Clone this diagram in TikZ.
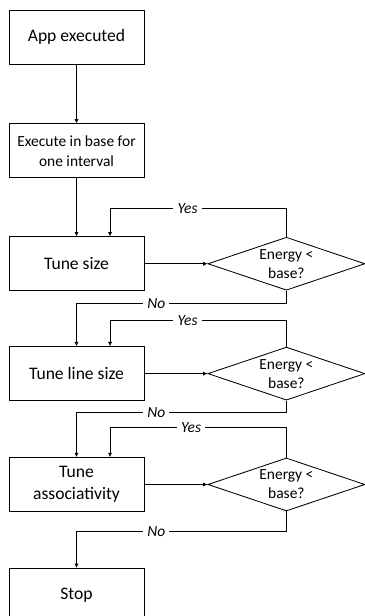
\documentclass[tikz,border=0pt]{standalone}
\usepackage{fontspec}
\setmainfont{Carlito}
\usetikzlibrary{positioning, arrows.meta, shapes.geometric}

\begin{document}
\begin{tikzpicture}[x=0.025cm, y=-0.025cm, node distance=1.4cm and 1.575cm,
    line width=0.6pt,
    every node/.style={font=\fontsize{12.5}{16}\selectfont},
    stepbox/.style={rectangle, draw, minimum width=3.375cm, minimum height=1.35cm, align=center, inner sep=2pt},
    smallbox/.style={stepbox, font=\fontsize{11}{14}\selectfont},
    check/.style={diamond, draw, aspect=2.96, inner sep=0pt, minimum width=3.925cm, minimum height=1.325cm, align=center, font=\fontsize{11}{13.5}\selectfont},
    lbl/.style={fill=white, inner sep=3pt, font=\fontsize{11}{13}\selectfont\itshape},
    arrow/.style={-{Latex[length=3pt, width=3pt]}}]

  \useasboundingbox (0,0) rectangle (365,616);

  \node[stepbox] (app) at (76.5,37) {App executed};
  \node[smallbox, below=1.475cm of app] (base) {Execute in base for\\one interval};
  \node[stepbox, below=1.45cm of base] (size) {Tune size};
  \node[stepbox, below=1.375cm of size] (line) {Tune line size};
  \node[stepbox, below=1.4cm of line] (assoc) {Tune\\associativity};
  \node[stepbox, below=1.4cm of assoc] (stop) {Stop};

  \node[check, right=of size] (chk1) {Energy <\\base?};
  \node[check, right=of line] (chk2) {Energy <\\base?};
  \node[check, right=of assoc] (chk3) {Energy <\\base?};

  \draw[arrow] (app) -- (base);
  \draw[arrow] (base) -- (size);

  % tune size
  \draw[arrow] (size) -- (chk1);
  \draw[arrow] (chk1.north) -- ++(0,0.7cm) -| ([xshift=0.8375cm]size.north) node[lbl, pos=0.28] {Yes};
  \draw[arrow] (chk1.south) -- ++(0,-0.325cm) -| (line.north) node[lbl, pos=0.31] {No};

  % tune line size
  \draw[arrow] (line) -- (chk2);
  \draw[arrow] (chk2.north) -- ++(0,0.65cm) -| ([xshift=0.8375cm]line.north) node[lbl, pos=0.28] {Yes};
  \draw[arrow] (chk2.south) -- ++(0,-0.3cm) -| (assoc.north) node[lbl, pos=0.31] {No};

  % tune associativity
  \draw[arrow] (assoc) -- (chk3);
  \draw[arrow] (chk3.north) -- ++(0,0.75cm) -| ([xshift=0.8375cm]assoc.north) node[lbl, pos=0.27] {Yes};
  \draw[arrow] (chk3.south) -- ++(0,-0.5cm) -| (stop.north) node[lbl, pos=0.31] {No};
\end{tikzpicture}
\end{document}
